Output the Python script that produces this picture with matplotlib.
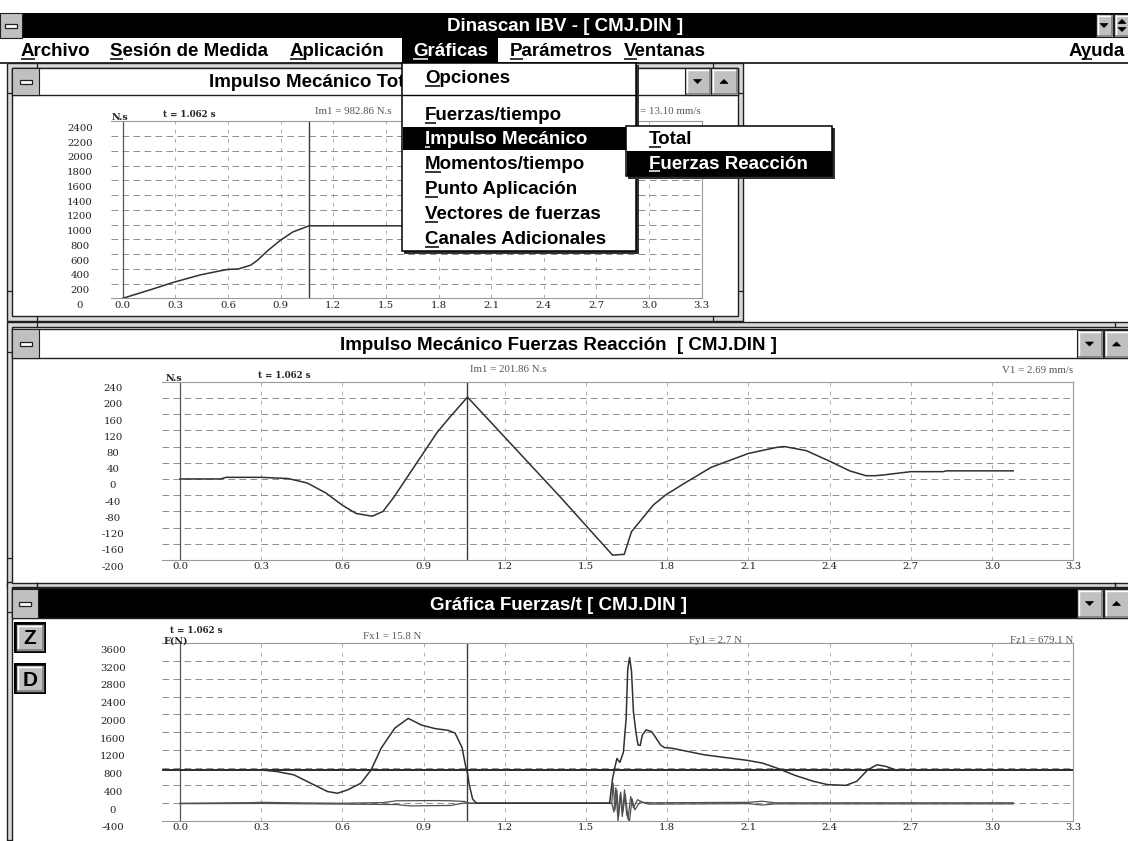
import matplotlib
matplotlib.use("Agg")
import matplotlib.pyplot as plt
import matplotlib.transforms as mtransforms
from matplotlib.font_manager import FontProperties
from matplotlib.patches import Rectangle, Polygon

# Screen size in pixels (figure is drawn 1:1 at 100 dpi)
W, H = 1128, 841

# Shared time axis (s)
X_TICKS = [0.0, 0.3, 0.6, 0.9, 1.2, 1.5, 1.8, 2.1, 2.4, 2.7, 3.0, 3.3]
X_LABELS = ["0.0", "0.3", "0.6", "0.9", "1.2", "1.5", "1.8", "2.1", "2.4", "2.7", "3.0", "3.3"]
X_LEFT = -0.068
T_CURSOR = 1.062

# Impulso mecánico total (N.s)
TOTAL_TICKS = [2400, 2200, 2000, 1800, 1600, 1400, 1200, 1000, 800, 600, 400, 200, 0]
total_t = [0.0, 0.15, 0.29, 0.44, 0.55, 0.60, 0.66, 0.73, 0.77, 0.82, 0.90, 0.97, 1.062, 2.2]
total_imp = [0, 110, 217, 316, 370, 392, 398, 450, 520, 633, 790, 900, 983, 983]

# Impulso mecánico fuerzas reacción (N.s)
REAC_TICKS = [240, 200, 160, 120, 80, 40, 0, -40, -80, -120, -160, -200]
reac_t = [0.0, 0.15, 0.17, 0.30, 0.40, 0.47, 0.54, 0.60, 0.65, 0.71,
          0.75, 0.79, 0.85, 0.90, 0.95, 1.00, 1.062, 1.40, 1.598, 1.641,
          1.668, 1.749, 1.795, 1.87, 1.963, 2.10, 2.205, 2.232, 2.313, 2.396,
          2.474, 2.534, 2.568, 2.60, 2.65, 2.70, 2.82, 2.83, 3.078]
reac_imp = [0, 0, 4, 4, 1, -10, -35, -65, -85, -92,
            -80, -45, 15, 65, 115, 155, 202, -41, -188, -186,
            -130, -64, -39, -8, 29, 63, 78, 80, 70, 45,
            20, 8, 8, 10, 14, 18, 18, 20, 20]

# Fuerzas/tiempo (N)
FORCE_TICKS = [3600, 3200, 2800, 2400, 2000, 1600, 1200, 800, 400, 0, -400]
BODY_WEIGHT = 745
fz_t = [0.0, 0.05, 0.1, 0.15, 0.2, 0.25, 0.297, 0.359, 0.421, 0.483,
        0.545, 0.582, 0.619, 0.668, 0.706, 0.743, 0.793, 0.843, 0.892, 0.942,
        0.991, 1.016, 1.042, 1.055, 1.062, 1.068, 1.081, 1.095, 1.587, 1.598,
        1.607, 1.614, 1.625, 1.638, 1.648, 1.654, 1.661, 1.668, 1.675, 1.684,
        1.692, 1.700, 1.708, 1.722, 1.742, 1.755, 1.775, 1.789, 1.816, 1.937,
        2.098, 2.152, 2.205, 2.272, 2.340, 2.393, 2.460, 2.500, 2.541, 2.575,
        2.608, 2.649, 2.70, 2.76, 2.80, 2.86, 2.93, 2.98, 3.03, 3.078]
fz = [752, 748, 755, 747, 753, 746, 750, 713, 638, 450,
      263, 225, 300, 450, 750, 1238, 1688, 1910, 1760, 1680,
      1640, 1580, 1252, 841, 679, 430, 93, 0, 0, 560,
      821, 1007, 920, 1150, 1903, 3020, 3280, 2963, 2060, 1612,
      1313, 1300, 1537, 1650, 1612, 1500, 1313, 1254, 1239, 1090,
      963, 903, 791, 627, 493, 418, 403, 493, 754, 866,
      828, 739, 752, 746, 756, 748, 755, 747, 754, 750]
fx_t = [0.0, 0.25, 0.30, 0.45, 0.60, 0.75, 0.80, 0.95, 1.00, 1.05,
        1.07, 1.595, 1.600, 1.607, 1.614, 1.620, 1.628, 1.636, 1.645, 1.655,
        1.665, 1.675, 1.690, 1.710, 1.740, 2.10, 2.15, 2.20, 3.078]
fx = [0, 12, 20, 8, 0, 15, 55, 60, 55, 40,
      0, 0, 450, -150, 300, -300, 250, -200, 200, -350,
      150, -100, 80, 20, 10, 20, 45, 10, 10]
fy_t = [0.0, 0.30, 0.60, 0.80, 0.85, 1.00, 1.05, 1.07, 1.595, 1.603,
        1.610, 1.618, 1.626, 1.634, 1.642, 1.650, 1.660, 1.670, 1.680, 1.700,
        1.730, 2.10, 2.15, 2.20, 3.078]
fy = [-10, -5, -20, -30, -60, -50, 6, 0, 0, -200,
      350, -400, 200, -300, 300, -250, -420, 100, -150, 30,
      -20, -10, -40, -15, -15]

CHROME_FONT = ["Liberation Sans", "DejaVu Sans"]
PLOT_FONT = ["DejaVu Serif"]
NOTE_FONT = ["Liberation Serif", "DejaVu Serif"]
GRAY = "#c0c0c0"
GRID = "#8e8e8e"
INK = "#303030"


def add_px_axes(fig, left, top, right, bottom, z):
    """Axes placed from screen pixel edges."""
    return fig.add_axes([left / W, 1 - bottom / H, (right - left) / W, (bottom - top) / H], zorder=z)


def draw_graph(fig, ax, ticks, label_cx, xlabel_cy):
    ax.set_xlim(X_LEFT, 3.3)
    ax.set_ylim(ticks[-1], ticks[0])
    ax.set_xticks([])
    ax.set_yticks([])
    ax.spines["left"].set_visible(False)
    for side in ("top", "right", "bottom"):
        ax.spines[side].set_color("#9a9a9a")
        ax.spines[side].set_linewidth(0.8)

    for v in ticks[1:-1]:
        ax.axhline(v, color=GRID, lw=0.7, dashes=(6.9, 4.4), zorder=1)
    for t in X_TICKS[1:-1]:
        ax.axvline(t, color="#a0a0a0", lw=0.6, dashes=(4.5, 6.5), zorder=1)
    ax.axvline(0, color="#555555", lw=0.9, zorder=2)
    ax.axvline(T_CURSOR, color="#3a3a3a", lw=1.0, zorder=2)

    # tick labels hang just below their grid line, centred in a column
    ylab = mtransforms.blended_transform_factory(fig.transFigure, ax.transData) + \
        mtransforms.ScaledTranslation(0, -7 / 100, fig.dpi_scale_trans)
    for v in ticks:
        ax.text(label_cx / W, v, str(v), transform=ylab, ha="center", va="center",
                fontsize=7.3, family=PLOT_FONT, color="#222222", clip_on=False)
    xlab = mtransforms.blended_transform_factory(ax.transData, fig.transFigure)
    for t, s in zip(X_TICKS, X_LABELS):
        ax.text(t, 1 - xlabel_cy / H, s, transform=xlab, ha="center", va="center",
                fontsize=7.3, family=PLOT_FONT, color="#222222", clip_on=False)


def note(fig, ax, x, y, s, ha="left", bold=False, size=7.8, color="#555555", serif=True):
    ax.text(x / W, 1 - y / H, s, transform=fig.transFigure, ha=ha, va="baseline",
            fontsize=size, family=NOTE_FONT if serif else PLOT_FONT,
            fontweight="bold" if bold else "normal", color=color, clip_on=False)


def box(ax, x0, y0, x1, y1, fc, ec="none", lw=0.0, z=1):
    patch = Rectangle((x0, y0), x1 - x0, y1 - y0, facecolor=fc, edgecolor=ec, lw=lw, zorder=z)
    ax.add_patch(patch)
    return patch


def hline(ax, x0, x1, y, color="#202020", lw=1.0, z=2):
    ax.plot([x0, x1], [y, y], color=color, lw=lw, solid_capstyle="butt", zorder=z)


def vline(ax, x, y0, y1, color="#202020", lw=1.0, z=2):
    ax.plot([x, x], [y0, y1], color=color, lw=lw, solid_capstyle="butt", zorder=z)


def raised(ax, x0, y0, x1, y1, z=2):
    box(ax, x0, y0, x1, y1, GRAY, "#202020", 0.8, z)
    hline(ax, x0 + 1, x1 - 1, y0 + 1.5, "white", 1.0, z + 0.1)
    vline(ax, x0 + 1.5, y0 + 1, y1 - 1, "white", 1.0, z + 0.1)
    hline(ax, x0 + 1, x1 - 1, y1 - 1.5, "#808080", 1.2, z + 0.1)
    vline(ax, x1 - 1.5, y0 + 1, y1 - 1, "#808080", 1.2, z + 0.1)


def sys_button(ax, x0, y0, x1, y1, z=3):
    box(ax, x0, y0, x1, y1, GRAY, "#202020", 0.8, z)
    cx, cy = (x0 + x1) / 2, (y0 + y1) / 2
    box(ax, cx - 6, cy - 2, cx + 6, cy + 2, "white", "#202020", 0.9, z + 0.2)


def arrow_button(ax, x0, y0, x1, y1, kind, z=3):
    raised(ax, x0, y0, x1, y1, z)
    cx, cy = (x0 + x1) / 2 - 0.5, (y0 + y1) / 2
    if kind in ("down", "both"):
        dy = 4 if kind == "both" else 0
        ax.add_patch(Polygon([(cx - 4, cy - 2 + dy), (cx + 4, cy - 2 + dy), (cx, cy + 2 + dy)],
                             closed=True, fc="black", ec="black", lw=0.5, zorder=z + 0.3))
    if kind in ("up", "both"):
        dy = -4 if kind == "both" else 0
        ax.add_patch(Polygon([(cx - 4, cy + 2 + dy), (cx + 4, cy + 2 + dy), (cx, cy - 2 + dy)],
                             closed=True, fc="black", ec="black", lw=0.5, zorder=z + 0.3))


def window_frame(ax, x0, y0, x1, y1, band=5):
    box(ax, x0, y0, x1, y1, "#d8d8d8", "#202020", 1.0, 1)
    box(ax, x0 + band, y0 + band, x1 - band, y1 - band, "white", "#202020", 1.0, 1.1)
    # sizing-border corner marks
    for x in (x0 + 30, x1 - 30):
        vline(ax, x, y0, y0 + band, lw=0.9, z=1.2)
        vline(ax, x, y1 - band, y1, lw=0.9, z=1.2)
    for y in (y0 + 30, y1 - 30):
        hline(ax, x0, x0 + band, y, lw=0.9, z=1.2)
        hline(ax, x1 - band, x1, y, lw=0.9, z=1.2)


def ul_text(ax, renderer, x, y, s, ul, color, size=13.5, z=5, ha="left"):
    """Menu text with the accelerator letter underlined."""
    prop = FontProperties(family=CHROME_FONT, size=size, weight="bold")
    if ha == "right":
        x = x - renderer.get_text_width_height_descent(s, prop, ismath=False)[0]
    ax.text(x, y, s, fontproperties=prop, color=color, ha="left", va="baseline", zorder=z)
    if ul is None:
        return
    w0 = renderer.get_text_width_height_descent(s[:ul], prop, ismath=False)[0] if ul > 0 else 0.0
    w1 = renderer.get_text_width_height_descent(s[:ul + 1], prop, ismath=False)[0]
    hline(ax, x + w0, x + w1, y + 2.5, color, 1.1, z)


def draw_chrome(ax, renderer):
    bold = FontProperties(family=CHROME_FONT, size=13.5, weight="bold")

    # application title bar
    box(ax, 0, 13, W, 38, "black")
    sys_button(ax, 0, 13, 22, 38)
    ax.text(565, 31, "Dinascan IBV - [ CMJ.DIN ]", fontproperties=bold, color="white",
            ha="center", va="baseline", zorder=3)
    arrow_button(ax, 1096, 14, 1113, 37, "down")
    arrow_button(ax, 1114, 14, 1131, 37, "both")

    # menu bar
    hline(ax, 0, W, 63, "#202020", 1.3)
    box(ax, 402, 38, 498, 63, "black", z=2)
    items = [("Archivo", 0, 21), ("Sesión de Medida", 0, 110), ("Aplicación", 0, 290),
             ("Parámetros", 0, 510), ("Ventanas", 0, 624)]
    for s, ul, x in items:
        ul_text(ax, renderer, x, 56, s, ul, "black")
    ul_text(ax, renderer, 413, 56, "Gráficas", 0, "white")
    ul_text(ax, renderer, 1125, 56, "Ayuda", 1, "black", ha="right")

    # Impulso Mecánico Total window (its title runs under the open menu)
    window_frame(ax, 7, 63, 743, 321)
    box(ax, 12, 68, 738, 95, "white", "#202020", 1.0, 2)
    sys_button(ax, 12, 68, 39, 95)
    title = ax.text(370, 87, "Impulso Mecánico Total  [ CMJ.DIN ]", fontproperties=bold,
                    color="black", ha="center", va="baseline", zorder=3)
    visible = Rectangle((40, 68), 362, 27, transform=ax.transData, fill=False, lw=0)
    title.set_clip_path(visible)
    arrow_button(ax, 685, 68, 711, 95, "down")
    arrow_button(ax, 711, 68, 738, 95, "up")

    # Impulso Mecánico Fuerzas Reacción window
    window_frame(ax, 7, 322, 1145, 588)
    box(ax, 12, 329, 1140, 358, "white", "#202020", 1.0, 2)
    sys_button(ax, 12, 329, 39, 358)
    ax.text(558, 350, "Impulso Mecánico Fuerzas Reacción  [ CMJ.DIN ]", fontproperties=bold,
            color="black", ha="center", va="baseline", zorder=3)
    arrow_button(ax, 1077, 330, 1103, 358, "down")
    arrow_button(ax, 1104, 330, 1130, 358, "up")

    # Gráfica Fuerzas/t window (active)
    window_frame(ax, 7, 582, 1145, 870)
    box(ax, 12, 588, 1140, 618, "black", "#202020", 1.0, 2)
    sys_button(ax, 12, 589, 38, 618)
    ax.text(558, 610, "Gráfica Fuerzas/t [ CMJ.DIN ]", fontproperties=bold, color="white",
            ha="center", va="baseline", zorder=3)
    arrow_button(ax, 1077, 589, 1103, 618, "down")
    arrow_button(ax, 1104, 589, 1130, 618, "up")

    big = FontProperties(family=CHROME_FONT, size=15, weight="bold")
    for letter, y0 in (("Z", 622), ("D", 663)):
        box(ax, 14, y0, 46, y0 + 31, "black", z=3)
        raised(ax, 16, y0 + 2, 44, y0 + 29, z=3.1)
        ax.text(30, y0 + 22.5, letter, fontproperties=big, color="black", ha="center",
                va="baseline", zorder=4)


def draw_menu(ax, renderer):
    # Gráficas drop-down
    box(ax, 404, 65, 639, 254, "#303030", z=1)
    box(ax, 402, 63, 636, 251, "white", "black", 1.1, 2)
    hline(ax, 402, 636, 94.5, "black", 1.0, 3)
    box(ax, 402.5, 127, 635.5, 149.5, "black", z=3)
    entries = [("Opciones", 0, 83), ("Fuerzas/tiempo", 0, 120), ("Impulso Mecánico", 0, 144),
               ("Momentos/tiempo", 0, 169), ("Punto Aplicación", 0, 194),
               ("Vectores de fuerzas", 0, 219), ("Canales Adicionales", 0, 244)]
    for s, ul, y in entries:
        color = "white" if s == "Impulso Mecánico" else "black"
        ul_text(ax, renderer, 425, y, s, ul, color)

    # Impulso Mecánico submenu
    box(ax, 628, 128, 835, 179, "#303030", z=4)
    box(ax, 626, 126, 832, 176, "white", "black", 1.1, 4.1)
    box(ax, 626.5, 151, 831.5, 175.5, "black", z=4.2)
    ul_text(ax, renderer, 649, 144, "Total", 0, "black", z=5)
    ul_text(ax, renderer, 649, 168.5, "Fuerzas Reacción", 0, "white", z=5)


def main():
    plt.rcParams["font.family"] = ["DejaVu Sans"]
    fig = plt.figure(figsize=(W / 100, H / 100), dpi=100)
    fig.patch.set_facecolor("white")
    renderer = fig.canvas.get_renderer()

    ui = fig.add_axes([0, 0, 1, 1], zorder=0)
    ui.set_xlim(0, W)
    ui.set_ylim(H, 0)
    ui.axis("off")
    draw_chrome(ui, renderer)

    # Impulso Mecánico Total
    ax1 = add_px_axes(fig, 110.8, 121.3, 701.7, 298.3, 1)
    draw_graph(fig, ax1, TOTAL_TICKS, 80, 306)
    ax1.plot(total_t, total_imp, color=INK, lw=1.1, zorder=3)
    note(fig, ax1, 112, 120, "N.s", bold=True, size=6.8, color="#222222", serif=False)
    note(fig, ax1, 163, 117, "t = 1.062 s", bold=True, size=6.3, color="#222222", serif=False)
    note(fig, ax1, 315, 114, "Im1 = 982.86 N.s")
    note(fig, ax1, 701, 114, "V1 = 13.10 mm/s", ha="right")

    # Impulso Mecánico Fuerzas Reacción
    ax2 = add_px_axes(fig, 161.6, 381.7, 1073.3, 560, 1)
    draw_graph(fig, ax2, REAC_TICKS, 113, 566.5)
    ax2.plot(reac_t, reac_imp, color=INK, lw=1.1, zorder=3)
    note(fig, ax2, 166, 381, "N.s", bold=True, size=6.8, color="#222222", serif=False)
    note(fig, ax2, 258, 378, "t = 1.062 s", bold=True, size=6.3, color="#222222", serif=False)
    note(fig, ax2, 470, 372, "Im1 = 201.86 N.s")
    note(fig, ax2, 1073, 373, "V1 = 2.69 mm/s", ha="right")

    # Gráfica Fuerzas/t
    ax3 = add_px_axes(fig, 161.6, 643.3, 1073.3, 821, 1)
    draw_graph(fig, ax3, FORCE_TICKS, 113, 827)
    ax3.axhline(BODY_WEIGHT, color="#2a2a2a", lw=1.4, zorder=3)
    ax3.plot(fx_t, fx, color="#505050", lw=0.9, zorder=3)
    ax3.plot(fy_t, fy, color="#505050", lw=0.9, zorder=3)
    ax3.plot(fz_t, fz, color=INK, lw=1.1, zorder=4)
    note(fig, ax3, 170, 633, "t = 1.062 s", bold=True, size=6.3, color="#222222", serif=False)
    note(fig, ax3, 164, 644, "F(N)", bold=True, size=6.8, color="#222222", serif=False)
    note(fig, ax3, 392, 639, "Fx1 = 15.8 N", ha="center")
    note(fig, ax3, 715, 643, "Fy1 = 2.7 N", ha="center")
    note(fig, ax3, 1073, 643, "Fz1 = 679.1 N", ha="right")

    menu = fig.add_axes([0, 0, 1, 1], zorder=5)
    menu.set_xlim(0, W)
    menu.set_ylim(H, 0)
    menu.axis("off")
    menu.patch.set_alpha(0)
    draw_menu(menu, renderer)

    fig.savefig("out.png", dpi=100)
    plt.close(fig)


if __name__ == "__main__":
    main()
